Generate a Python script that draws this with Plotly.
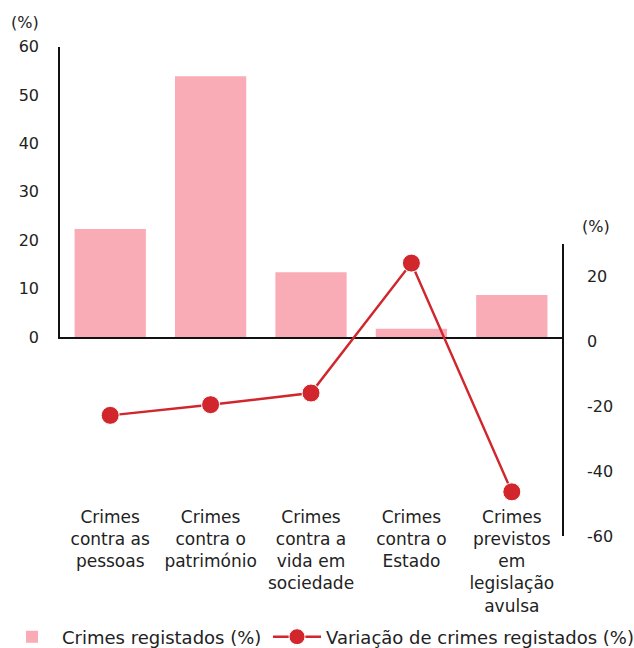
import plotly.graph_objects as go

# Crime categories and their two indicators
categories = [
    "Crimes<br>contra as<br>pessoas",
    "Crimes<br>contra o<br>património",
    "Crimes<br>contra a<br>vida em<br>sociedade",
    "Crimes<br>contra o<br>Estado",
    "Crimes<br>previstos<br>em<br>legislação<br>avulsa",
]
share_registered = [22.3, 53.9, 13.4, 1.7, 8.7]            # Crimes registados (%)
variation_registered = [-22.8, -19.5, -15.9, 24.2, -46.4]  # Variação (%)

left_ticks = [0, 10, 20, 30, 40, 50, 60]
right_ticks = [-60, -40, -20, 0, 20]
right_tick_text = ["-60", "-40", "-20", "0", "20"]

W, H = 634, 648
FONT = "DejaVu Sans"
TXT = "#222222"
PINK = "#FAACB6"
RED = "#D0262C"
L_MARGIN, R_MARGIN = 60, 72

fig = go.Figure()
fig.add_trace(go.Bar(
    x=categories, y=share_registered, name="Crimes registados (%)",
    marker=dict(color=PINK, line=dict(width=0)), width=0.71,
    xaxis="x", yaxis="y", legend="legend",
))
fig.add_trace(go.Scatter(
    x=categories, y=variation_registered, name="Variação de crimes registados (%)",
    mode="lines+markers", line=dict(color=RED, width=2.5),
    marker=dict(color=RED, size=18, line=dict(color="white", width=1)),
    xaxis="x", yaxis="y2", legend="legend2",
))


def dom(px_bottom, px_top):
    return [1 - px_bottom / H, 1 - px_top / H]


def px_x(px):
    return (px - L_MARGIN) / (W - L_MARGIN - R_MARGIN)


fig.update_layout(
    width=W, height=H,
    margin=dict(l=L_MARGIN, r=R_MARGIN, t=0, b=0, autoexpand=False),
    paper_bgcolor="white", plot_bgcolor="rgba(0,0,0,0)",
    font=dict(family=FONT, size=17, color=TXT),
    showlegend=True,
    legend=dict(orientation="h", x=px_x(2), xanchor="left",
                y=1 - 637 / H, yanchor="middle",
                font=dict(size=18, color=TXT), bgcolor="rgba(0,0,0,0)",
                itemwidth=50),
    legend2=dict(orientation="h", x=px_x(268), xanchor="left",
                 y=1 - 637 / H, yanchor="middle",
                 font=dict(size=18, color=TXT), bgcolor="rgba(0,0,0,0)",
                 itemwidth=48),
    xaxis=dict(
        anchor="y", domain=[0, 1], range=[-0.5, 4.5],
        showline=True, linecolor="#111111", linewidth=1.5,
        showgrid=False, zeroline=False, ticks="",
        ticklabelstandoff=164, automargin=False,
        tickfont=dict(size=17, color=TXT),
    ),
    yaxis=dict(
        domain=dom(337, 46.7), range=[0, 60], anchor="x",
        tickvals=left_ticks, showline=True, linecolor="#111111", linewidth=1.5,
        showgrid=False, zeroline=False, ticks="", ticklabelstandoff=16,
        automargin=False, tickfont=dict(size=16, color=TXT),
    ),
    yaxis2=dict(
        domain=dom(535.9, 244.3), range=[-60, 30], anchor="x", side="right",
        tickvals=right_ticks, ticktext=right_tick_text,
        showline=True, linecolor="#111111", linewidth=1.5,
        showgrid=False, zeroline=False, ticks="", ticklabelstandoff=20,
        automargin=False, tickfont=dict(size=16, color=TXT),
    ),
    annotations=[
        dict(text="(%)", xref="paper", yref="paper",
             x=px_x(25), y=1 - 22 / H, xanchor="center", yanchor="middle",
             showarrow=False, font=dict(size=16, color=TXT)),
        dict(text="(%)", xref="paper", yref="paper",
             x=px_x(596), y=1 - 226 / H, xanchor="center", yanchor="middle",
             showarrow=False, font=dict(size=16, color=TXT)),
    ],
)

fig.write_html("out.html")
